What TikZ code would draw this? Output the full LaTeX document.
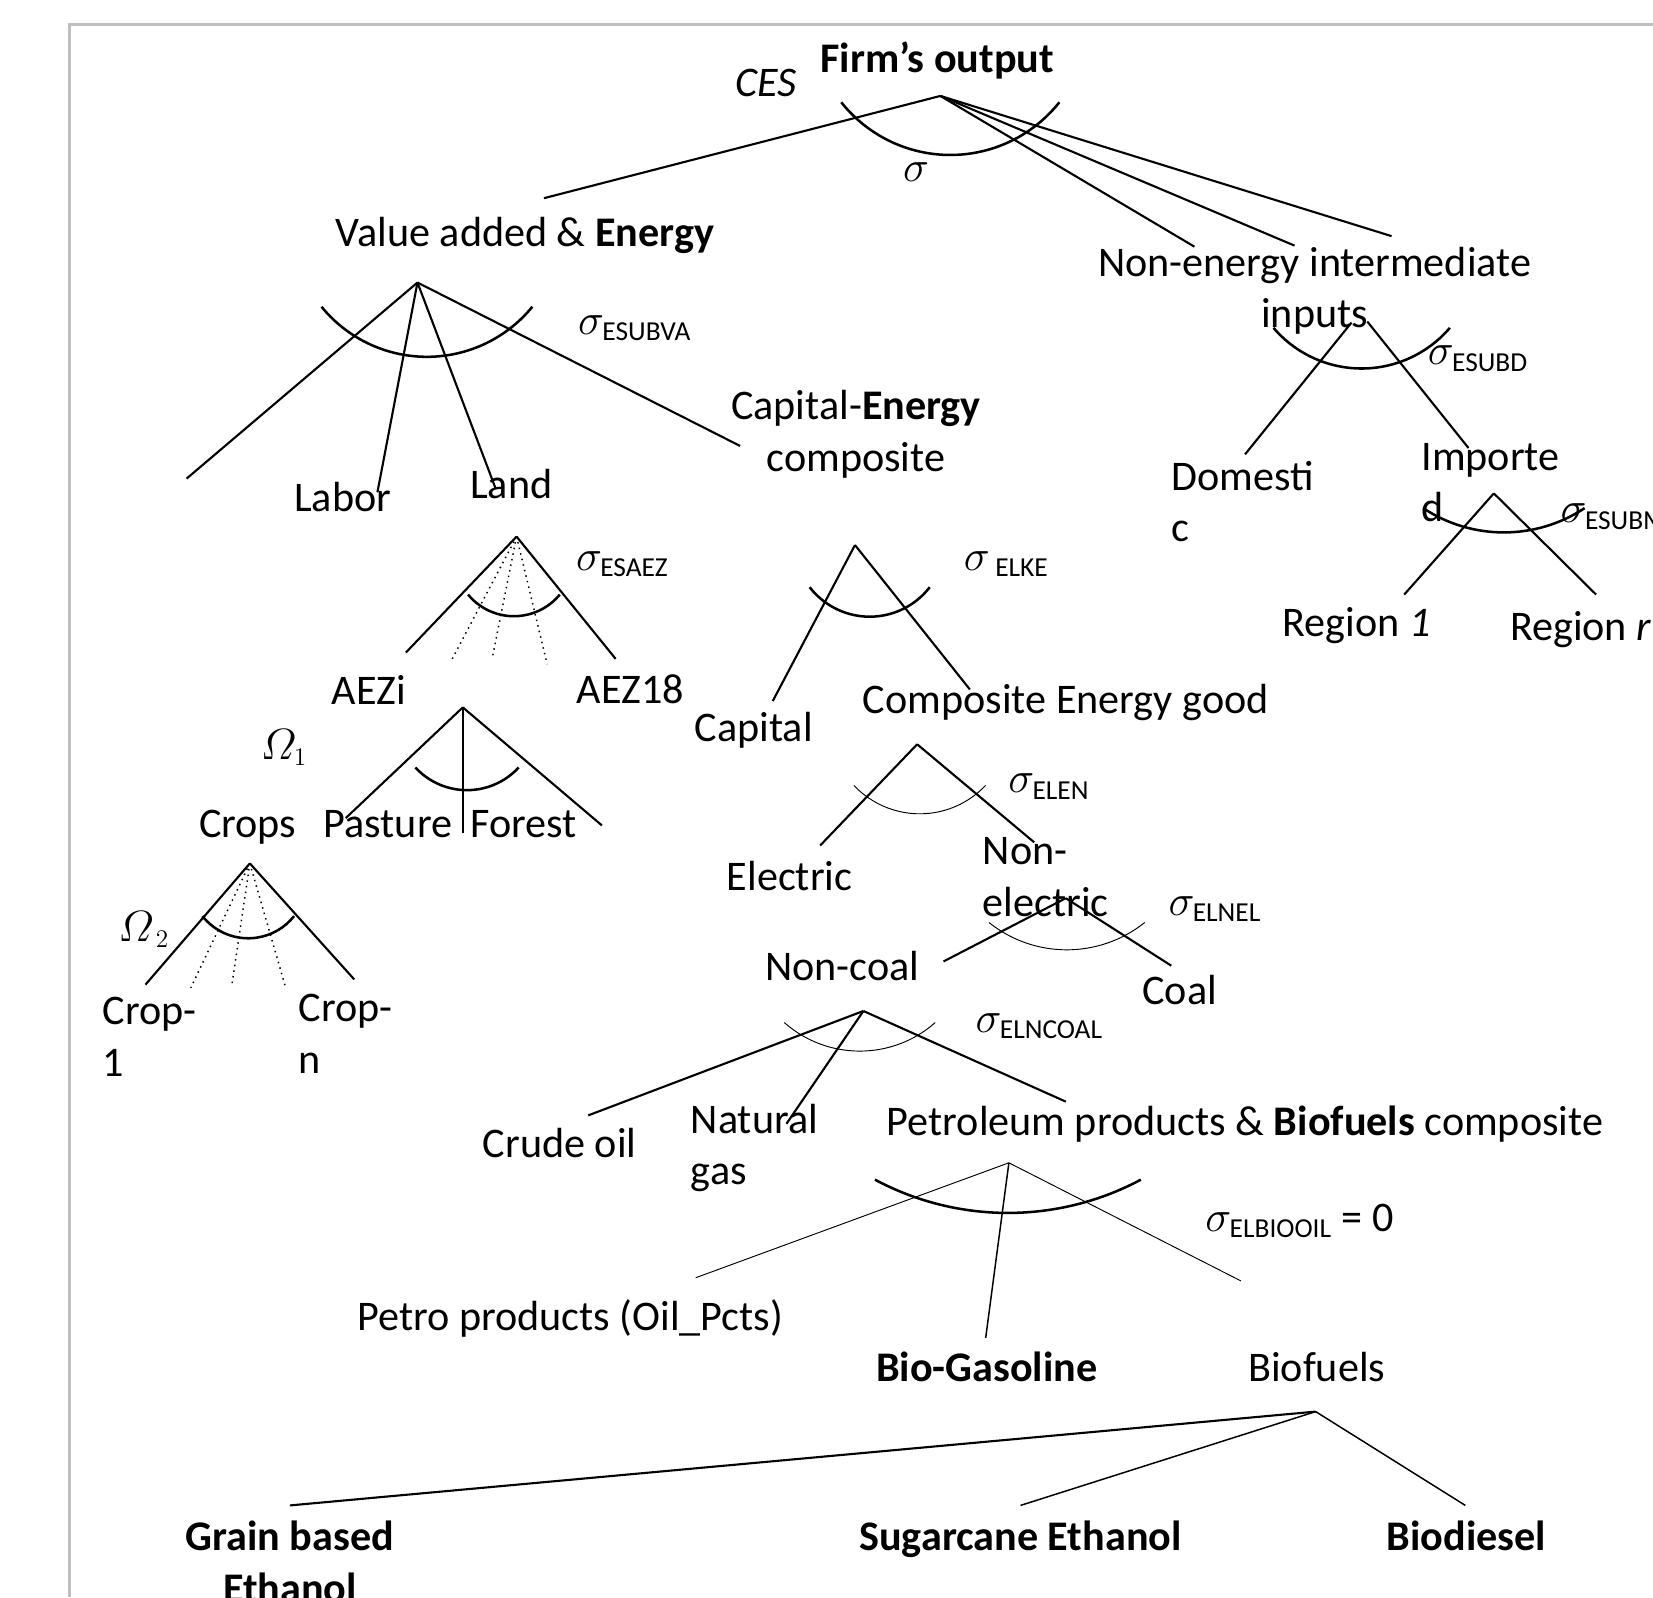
\documentclass[tikz,border=0pt]{standalone}
\usepackage{amsmath}
\usepackage{fontspec}
\setmainfont{Carlito}
\DeclareMathSizes{20}{20}{13}{10}

\tikzstyle{lbl} = [inner sep=0pt, anchor=base, font=\fontsize{20}{24.5}\selectfont]
\tikzstyle{lblw} = [lbl, anchor=base west, align=left]
\tikzstyle{lblc} = [lbl, align=center]
\tikzstyle{tip} = [coordinate]
\tikzstyle{branch} = [draw, line width=1pt]
\tikzstyle{thinbranch} = [draw, line width=0.45pt]
\tikzstyle{dots} = [draw, dotted, line width=0.7pt]
\tikzstyle{nest} = [draw, line width=1.2pt]
\tikzstyle{thinnest} = [draw, line width=0.45pt]
\tikzstyle{frame} = [draw=black!25, line width=1.4pt]

\begin{document}
\begin{tikzpicture}[x=0.5pt,y=0.5pt,yscale=-1]
\useasboundingbox (0,0) rectangle (1568,1515);
\draw[frame] (66,1515) -- (66,23) -- (1568,23);

% firm's output
\node[lbl] (firm) at (889,69) {\textbf{Firm’s output}};
\node[lbl] (ces) at (727,92) {\textit{CES}};
\node[lbl] (sig) at (869,172) {$\sigma$};
\node[tip] (firm-v) at (892,91) {};
\node[tip] (vae-in) at (516,188) {};
\node[tip] (nei-in1) at (1133,234) {};
\node[tip] (nei-in2) at (1228,233) {};
\node[tip] (nei-in3) at (1320,224) {};
\draw[nest] (798,97) arc[start angle=141.6, end angle=38.4, radius=132];
\draw[branch] (firm-v) -- (vae-in);
\draw[branch] (firm-v) -- (nei-in1);
\draw[branch] (firm-v) -- (nei-in2);
\draw[branch] (firm-v) -- (nei-in3);

% value added & energy
\node[lbl] (vae) at (498,234) {Value added \& \textbf{Energy}};
\node[lblw] (s-esubva) at (548,317) {$\sigma_{\text{ESUBVA}}$};
\node[lbl] (labor) at (325,485) {Labor};
\node[lbl] (land) at (485,473) {Land};
\node[lblc] (cape) at (812,447) {Capital-\textbf{Energy}\\composite};
\node[tip] (vae-v) at (396,268) {};
\node[tip] (vae-o1) at (177,454) {};
\node[tip] (vae-o2) at (358,467) {};
\node[tip] (vae-o3) at (470,463) {};
\node[tip] (vae-o4) at (702,423) {};
\draw[nest] (305,291) arc[start angle=140.8, end angle=39.2, radius=129];
\draw[branch] (vae-v) -- (vae-o1);
\draw[branch] (vae-v) -- (vae-o2);
\draw[branch] (vae-v) -- (vae-o3);
\draw[branch] (vae-v) -- (vae-o4);

% non-energy intermediate inputs
\node[lblc] (nei) at (1247,311) {Non-energy intermediate\\inputs};
\node[lblw] (s-esubd) at (1354,346) {$\sigma_{\text{ESUBD}}$};
\node[lblw] (dom) at (1111,514) {Domesti\\c};
\node[lblw] (imp) at (1348,495) {Importe\\d};
\node[tip] (nei-vl) at (1282,306) {};
\node[tip] (nei-vr) at (1297,305) {};
\node[tip] (dom-in) at (1181,431) {};
\node[tip] (imp-in) at (1393,425) {};
\draw[nest] (1208,311) arc[start angle=139.5, end angle=40.5, radius=110];
\draw[branch] (nei-vl) -- (dom-in);
\draw[branch] (nei-vr) -- (imp-in);

% imported
\node[lblw] (s-esubm) at (1480,496) {$\sigma_{\text{ESUBM}}$};
\node[lbl] (reg1) at (1287,604) {Region \textit{1}};
\node[lblw] (regr) at (1432,608) {Region \textit{r}};
\node[tip] (imp-v) at (1417,468) {};
\node[tip] (reg1-in) at (1332,564) {};
\node[tip] (regr-in) at (1514,564) {};
\draw[nest] (1350,482) arc[start angle=123.5, end angle=56.5, radius=138.7];
\draw[branch] (imp-v) -- (reg1-in);
\draw[branch] (imp-v) -- (regr-in);

% land
\node[lblw] (s-esaez) at (546,541) {$\sigma_{\text{ESAEZ}}$};
\node[lbl] (aezi) at (350,668) {AEZi};
\node[lbl] (aez18) at (598,667) {AEZ18};
\node[tip] (land-v) at (490,509) {};
\node[tip] (aezi-in) at (385,619) {};
\node[tip] (aez18-in) at (584,625) {};
\node[tip] (aez-a) at (429,625) {};
\node[tip] (aez-b) at (467,624) {};
\node[tip] (aez-c) at (519,630) {};
\draw[nest] (444,564) arc[start angle=140.5, end angle=39.5, radius=56.4];
\draw[branch] (land-v) -- (aezi-in);
\draw[branch] (land-v) -- (aez18-in);
\draw[dots] (land-v) -- (aez-a);
\draw[dots] (land-v) -- (aez-b);
\draw[dots] (land-v) -- (aez-c);

% aezi
\node[lblw] (om1) at (247,720) {$\varOmega_1$};
\node[lbl] (crops) at (235,794) {Crops};
\node[lbl] (pasture) at (368,794) {Pasture};
\node[lbl] (forest) at (497,794) {Forest};
\node[tip] (aezi-v) at (439,671) {};
\node[tip] (crops-in) at (328,776) {};
\node[tip] (pasture-in) at (439,790) {};
\node[tip] (forest-in) at (571,783) {};
\draw[nest] (394,728) arc[start angle=137.4, end angle=42.6, radius=66.6];
\draw[branch] (aezi-v) -- (crops-in);
\draw[branch] (aezi-v) -- (pasture-in);
\draw[branch] (aezi-v) -- (forest-in);

% crops
\node[lblw] (om2) at (112,893) {$\varOmega_{\,2}$};
\node[lblw] (crop1) at (97,1021) {Crop-\\1};
\node[lblw] (cropn) at (283,1018) {Crop-\\n};
\node[tip] (crops-v) at (237,819) {};
\node[tip] (crop1-in) at (138,934) {};
\node[tip] (cropn-in) at (336,929) {};
\node[tip] (crop-a) at (181,937) {};
\node[tip] (crop-b) at (220,934) {};
\node[tip] (crop-c) at (271,937) {};
\draw[nest] (192,869) arc[start angle=141.6, end angle=38.4, radius=55.5];
\draw[branch] (crops-v) -- (crop1-in);
\draw[branch] (crops-v) -- (cropn-in);
\draw[dots] (crops-v) -- (crop-a);
\draw[dots] (crops-v) -- (crop-b);
\draw[dots] (crops-v) -- (crop-c);

% capital-energy composite
\node[lblw] (s-elke) at (914,541) {$\sigma_{\;\text{ELKE}}$};
\node[lbl] (capital) at (715,703) {Capital};
\node[lbl] (ceg) at (1011,677) {Composite Energy good};
\node[tip] (cape-v) at (811,517) {};
\node[tip] (capital-in) at (733,665) {};
\node[tip] (ceg-in) at (920,654) {};
\draw[nest] (768,557) arc[start angle=142.3, end angle=37.7, radius=72];
\draw[branch] (cape-v) -- (capital-in);
\draw[branch] (cape-v) -- (ceg-in);

% composite energy good
\node[lblw] (s-elen) at (956,752) {$\sigma_{\text{ELEN}}$};
\node[lbl] (electric) at (749,845) {Electric};
\node[lblw] (nonel) at (932,869) {Non-\\electric};
\node[tip] (ceg-v) at (870,706) {};
\node[tip] (electric-in) at (778,802) {};
\node[tip] (nonel-in) at (981,799) {};
\draw[thinnest] (810,745) arc[start angle=136.7, end angle=43.3, radius=85.8];
\draw[branch] (ceg-v) -- (electric-in);
\draw[branch] (ceg-v) -- (nonel-in);

% non-electric
\node[lblw] (s-elnel) at (1108,868) {$\sigma_{\text{ELNEL}}$};
\node[lbl] (noncoal) at (799,930) {Non-coal};
\node[lbl] (coal) at (1119,953) {Coal};
\node[tip] (nonel-v) at (1011,852) {};
\node[tip] (noncoal-in) at (895,912) {};
\node[tip] (coal-in) at (1111,916) {};
\draw[thinnest] (938,875) arc[start angle=128.7, end angle=51.3, radius=118.3];
\draw[branch] (nonel-v) -- (noncoal-in);
\draw[branch] (nonel-v) -- (coal-in);

% non-coal
\node[lblw] (s-elncoal) at (925,979) {$\sigma_{\text{ELNCOAL}}$};
\node[lbl] (crude) at (531,1098) {Crude oil};
\node[lblw] (natgas) at (655,1124) {Natural\\gas};
\node[lbl] (petbio) at (1181,1077) {Petroleum products \& \textbf{Biofuels} composite};
\node[tip] (noncoal-v) at (819,959) {};
\node[tip] (crude-in) at (558,1058) {};
\node[tip] (natgas-in) at (746,1066) {};
\node[tip] (petbio-in) at (1011,1045) {};
\draw[thinnest] (744,970) arc[start angle=131.4, end angle=48.6, radius=108.2];
\draw[branch] (noncoal-v) -- (crude-in);
\draw[branch] (noncoal-v) -- (natgas-in);
\draw[branch] (noncoal-v) -- (petbio-in);

% petroleum products & biofuels
\node[lblw] (s-elbiooil) at (1143,1168) {$\sigma_{\text{ELBIOOIL}}$ = 0};
\node[lbl] (petro) at (541,1262) {Petro products (Oil\_Pcts)};
\node[lbl] (biogas) at (936,1310) {\textbf{Bio-Gasoline}};
\node[lbl] (biofuels) at (1249,1310) {Biofuels};
\node[tip] (petbio-v) at (957,1103) {};
\node[tip] (petro-in) at (660,1212) {};
\node[tip] (biogas-in) at (935,1269) {};
\node[tip] (biofuels-in) at (1177,1215) {};
\draw[nest] (830,1119) arc[start angle=118.1, end angle=61.9, radius=267.7];
\draw[thinbranch] (petbio-v) -- (petro-in);
\draw[branch, line width=0.7pt] (petbio-v) -- (biogas-in);
\draw[thinbranch] (petbio-v) -- (biofuels-in);

% biofuels
\node[lblc] (grain) at (275,1520) {\textbf{Grain based}\\\textbf{Ethanol}};
\node[lbl] (sugar) at (968,1471) {\textbf{Sugarcane Ethanol}};
\node[lbl] (biodiesel) at (1391,1471) {\textbf{Biodiesel}};
\node[tip] (biofuels-v) at (1248,1339) {};
\node[tip] (grain-in) at (275,1428) {};
\node[tip] (sugar-in) at (968,1428) {};
\node[tip] (biodiesel-in) at (1390,1428) {};
\draw[branch] (biofuels-v) -- (grain-in);
\draw[branch, line width=0.7pt] (biofuels-v) -- (sugar-in);
\draw[branch, line width=0.7pt] (biofuels-v) -- (biodiesel-in);

\end{tikzpicture}
\end{document}
